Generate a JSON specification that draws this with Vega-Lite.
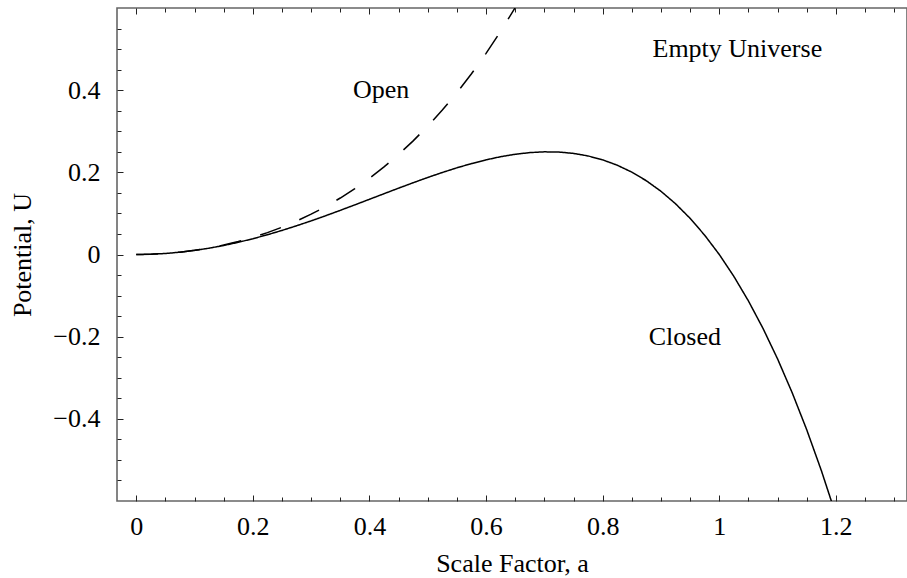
{
  "$schema": "https://vega.github.io/schema/vega-lite/v6.json",
  "width": 790,
  "height": 493,
  "autosize": {"type": "none"},
  "padding": {"left": 117, "top": 8, "right": 0, "bottom": 77},
  "background": "white",
  "config": {
    "view": {"stroke": "#666", "strokeWidth": 1.6},
    "font": "Liberation Serif",
    "axis": {
      "labelFont": "Liberation Serif",
      "labelFontSize": 26,
      "labelColor": "black",
      "titleFont": "Liberation Serif",
      "titleFontSize": 26,
      "titleFontWeight": "normal",
      "titleColor": "black",
      "domain": false,
      "grid": false,
      "tickColor": "#222",
      "tickWidth": 1,
      "labelOverlap": false,
      "labelFlush": false
    }
  },
  "datasets": {
    "curves": [
      {"a": 0, "U": 0, "model": "Closed"},
      {"a": 0.025, "U": 0.000625, "model": "Closed"},
      {"a": 0.05, "U": 0.002494, "model": "Closed"},
      {"a": 0.075, "U": 0.005593, "model": "Closed"},
      {"a": 0.1, "U": 0.0099, "model": "Closed"},
      {"a": 0.125, "U": 0.015381, "model": "Closed"},
      {"a": 0.15, "U": 0.021994, "model": "Closed"},
      {"a": 0.175, "U": 0.029687, "model": "Closed"},
      {"a": 0.2, "U": 0.0384, "model": "Closed"},
      {"a": 0.225, "U": 0.048062, "model": "Closed"},
      {"a": 0.25, "U": 0.058594, "model": "Closed"},
      {"a": 0.275, "U": 0.069906, "model": "Closed"},
      {"a": 0.3, "U": 0.0819, "model": "Closed"},
      {"a": 0.325, "U": 0.094468, "model": "Closed"},
      {"a": 0.35, "U": 0.107494, "model": "Closed"},
      {"a": 0.375, "U": 0.12085, "model": "Closed"},
      {"a": 0.4, "U": 0.1344, "model": "Closed"},
      {"a": 0.425, "U": 0.148, "model": "Closed"},
      {"a": 0.45, "U": 0.161494, "model": "Closed"},
      {"a": 0.475, "U": 0.174718, "model": "Closed"},
      {"a": 0.5, "U": 0.1875, "model": "Closed"},
      {"a": 0.525, "U": 0.199656, "model": "Closed"},
      {"a": 0.55, "U": 0.210994, "model": "Closed"},
      {"a": 0.575, "U": 0.221312, "model": "Closed"},
      {"a": 0.6, "U": 0.2304, "model": "Closed"},
      {"a": 0.625, "U": 0.238037, "model": "Closed"},
      {"a": 0.65, "U": 0.243994, "model": "Closed"},
      {"a": 0.675, "U": 0.248031, "model": "Closed"},
      {"a": 0.7, "U": 0.2499, "model": "Closed"},
      {"a": 0.725, "U": 0.249343, "model": "Closed"},
      {"a": 0.75, "U": 0.246094, "model": "Closed"},
      {"a": 0.775, "U": 0.239875, "model": "Closed"},
      {"a": 0.8, "U": 0.2304, "model": "Closed"},
      {"a": 0.825, "U": 0.217375, "model": "Closed"},
      {"a": 0.85, "U": 0.200494, "model": "Closed"},
      {"a": 0.875, "U": 0.179443, "model": "Closed"},
      {"a": 0.9, "U": 0.1539, "model": "Closed"},
      {"a": 0.925, "U": 0.123531, "model": "Closed"},
      {"a": 0.95, "U": 0.087994, "model": "Closed"},
      {"a": 0.975, "U": 0.046937, "model": "Closed"},
      {"a": 1.0, "U": 0, "model": "Closed"},
      {"a": 1.025, "U": -0.053188, "model": "Closed"},
      {"a": 1.05, "U": -0.113006, "model": "Closed"},
      {"a": 1.075, "U": -0.179844, "model": "Closed"},
      {"a": 1.1, "U": -0.2541, "model": "Closed"},
      {"a": 1.125, "U": -0.336182, "model": "Closed"},
      {"a": 1.15, "U": -0.426506, "model": "Closed"},
      {"a": 1.175, "U": -0.5255, "model": "Closed"},
      {"a": 1.2, "U": -0.6336, "model": "Closed"},
      {"a": 0, "U": 0, "model": "Open"},
      {"a": 0.025, "U": 0.000625, "model": "Open"},
      {"a": 0.05, "U": 0.002506, "model": "Open"},
      {"a": 0.075, "U": 0.005657, "model": "Open"},
      {"a": 0.1, "U": 0.0101, "model": "Open"},
      {"a": 0.125, "U": 0.015869, "model": "Open"},
      {"a": 0.15, "U": 0.023006, "model": "Open"},
      {"a": 0.175, "U": 0.031563, "model": "Open"},
      {"a": 0.2, "U": 0.0416, "model": "Open"},
      {"a": 0.225, "U": 0.053188, "model": "Open"},
      {"a": 0.25, "U": 0.066406, "model": "Open"},
      {"a": 0.275, "U": 0.081344, "model": "Open"},
      {"a": 0.3, "U": 0.0981, "model": "Open"},
      {"a": 0.325, "U": 0.116782, "model": "Open"},
      {"a": 0.35, "U": 0.137506, "model": "Open"},
      {"a": 0.375, "U": 0.1604, "model": "Open"},
      {"a": 0.4, "U": 0.1856, "model": "Open"},
      {"a": 0.425, "U": 0.21325, "model": "Open"},
      {"a": 0.45, "U": 0.243506, "model": "Open"},
      {"a": 0.475, "U": 0.276532, "model": "Open"},
      {"a": 0.5, "U": 0.3125, "model": "Open"},
      {"a": 0.525, "U": 0.351594, "model": "Open"},
      {"a": 0.55, "U": 0.394006, "model": "Open"},
      {"a": 0.575, "U": 0.439938, "model": "Open"},
      {"a": 0.6, "U": 0.4896, "model": "Open"},
      {"a": 0.625, "U": 0.543213, "model": "Open"},
      {"a": 0.65, "U": 0.601006, "model": "Open"},
      {"a": 0.675, "U": 0.663219, "model": "Open"}
    ],
    "labels": [
      {"a": 0.42, "U": 0.4, "text": "Open"},
      {"a": 1.031, "U": 0.5, "text": "Empty Universe"},
      {"a": 0.941, "U": -0.2, "text": "Closed"}
    ]
  },
  "resolve": {"axis": {"x": "independent", "y": "independent"}},
  "layer": [
    {
      "mark": {"type": "rule", "color": "black", "strokeWidth": 1.2},
      "encoding": {
        "y": {"datum": 0, "type": "quantitative", "axis": null,
              "scale": {"domain": [-0.6, 0.6], "nice": false, "zero": false}}
      }
    },
    {
      "data": {"name": "curves"},
      "mark": {"type": "line", "color": "black", "strokeWidth": 1.5, "clip": true},
      "encoding": {
        "x": {
          "field": "a", "type": "quantitative",
          "scale": {"domain": [-0.033, 1.322], "nice": false, "zero": false},
          "axis": {
            "orient": "bottom",
            "title": "Scale Factor, a",
            "titlePadding": 9,
            "values": [0, 0.05, 0.1, 0.15, 0.2, 0.25, 0.3, 0.35, 0.4, 0.45, 0.5, 0.55, 0.6, 0.65, 0.7, 0.75, 0.8, 0.85, 0.9, 0.95, 1, 1.05, 1.1, 1.15, 1.2, 1.25, 1.3],
            "tickSize": {"condition": {"test": "abs(datum.value*5 - round(datum.value*5)) < 0.000001", "value": -6}, "value": -4},
            "labelExpr": "abs(datum.value*5 - round(datum.value*5)) < 0.000001 ? format(datum.value, '~g') : ''",
            "labelPadding": 18
          }
        },
        "y": {
          "field": "U", "type": "quantitative",
          "scale": {"domain": [-0.6, 0.6], "nice": false, "zero": false},
          "axis": {
            "orient": "left",
            "title": "Potential, U",
            "titlePadding": 17,
            "values": [-0.55, -0.5, -0.45, -0.4, -0.35, -0.3, -0.25, -0.2, -0.15, -0.1, -0.05, 0, 0.05, 0.1, 0.15, 0.2, 0.25, 0.3, 0.35, 0.4, 0.45, 0.5, 0.55],
            "tickSize": {"condition": {"test": "abs(datum.value*5 - round(datum.value*5)) < 0.000001", "value": -6}, "value": -4},
            "labelExpr": "abs(datum.value*5 - round(datum.value*5)) < 0.000001 ? format(datum.value, '~g') : ''",
            "labelPadding": 23
          }
        },
        "strokeDash": {
          "field": "model", "type": "nominal", "legend": null,
          "scale": {"domain": ["Closed", "Open"], "range": [[1, 0], [22, 20]]}
        },
        "detail": {"field": "model"}
      }
    },
    {
      "data": {"name": "labels"},
      "mark": {"type": "text", "font": "Liberation Serif", "fontSize": 26, "color": "black", "align": "center", "baseline": "middle"},
      "encoding": {
        "x": {
          "field": "a", "type": "quantitative",
          "scale": {"domain": [-0.033, 1.322], "nice": false, "zero": false},
          "axis": {
            "orient": "top",
            "title": null,
            "labels": false,
            "values": [0, 0.05, 0.1, 0.15, 0.2, 0.25, 0.3, 0.35, 0.4, 0.45, 0.5, 0.55, 0.6, 0.65, 0.7, 0.75, 0.8, 0.85, 0.9, 0.95, 1, 1.05, 1.1, 1.15, 1.2, 1.25, 1.3],
            "tickSize": {"condition": {"test": "abs(datum.value*5 - round(datum.value*5)) < 0.000001", "value": -6}, "value": -4}
          }
        },
        "y": {
          "field": "U", "type": "quantitative",
          "scale": {"domain": [-0.6, 0.6], "nice": false, "zero": false},
          "axis": null
        },
        "text": {"field": "text"}
      }
    }
  ]
}
